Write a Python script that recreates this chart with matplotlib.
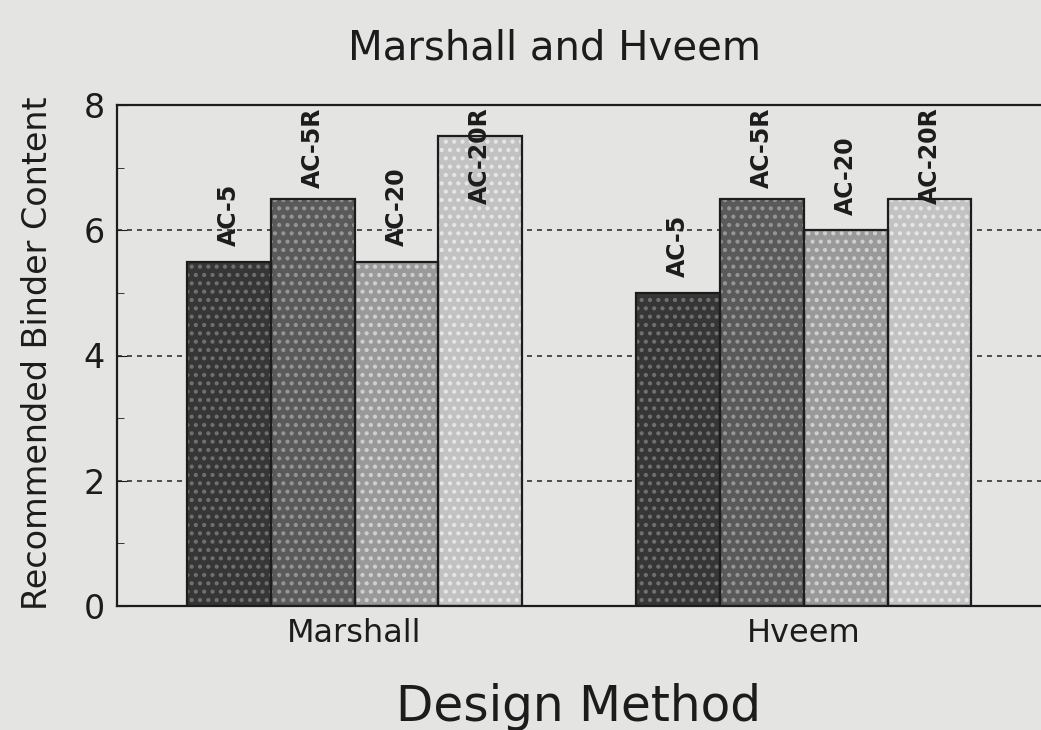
import matplotlib
matplotlib.use("Agg")
import matplotlib.pyplot as plt
import numpy as np

plt.rcParams['font.family'] = ['DejaVu Sans']
plt.rcParams['hatch.linewidth'] = 1.8

methods = ["Marshall", "Hveem"]
binders = ["AC-5", "AC-5R", "AC-20", "AC-20R"]
values = {
    "AC-5":   [5.5, 5.0],
    "AC-5R":  [6.5, 6.5],
    "AC-20":  [5.5, 6.0],
    "AC-20R": [7.5, 6.5],
}
y_ticks = [0, 2, 4, 6, 8]

face_colors = ["#363636", "#5a5a5a", "#999999", "#c2c2c2"]
dot_colors = ["#707070", "#959595", "#cfcfcf", "#e6e6e6"]
bg = "#e4e4e2"
ink = "#1c1c1c"

W, H = 1041, 730
fig = plt.figure(figsize=(W / 100, H / 100), dpi=100, facecolor=bg)
ax = fig.add_axes([117 / W, 1 - 606 / H, (1044 - 117) / W, (606 - 105) / H])
ax.set_facecolor(bg)

x = np.arange(len(methods))
bw = 0.1867
offsets = (np.arange(len(binders)) - 1.5) * bw

ax.set_ylim(0, 8)
ax.set_xlim(-0.529, 1.535)

labels = []
for i, b in enumerate(binders):
    xs = x + offsets[i]
    ax.bar(xs, values[b], width=bw, color=face_colors[i], edgecolor=dot_colors[i],
           hatch="..", linewidth=0, zorder=2)
    ax.bar(xs, values[b], width=bw, fill=False, edgecolor=ink, linewidth=1.6, zorder=3)
    for xi, v in zip(xs, values[b]):
        t = ax.text(xi, v + 0.25, b, rotation=90, ha="center", va="bottom",
                    fontsize=17, fontweight="bold", color=ink, zorder=4)
        labels.append(t)

ax.set_yticks(y_ticks)
ax.set_yticks([1, 3, 5, 7], minor=True)
ax.set_xticks(x)
ax.set_xticklabels(methods)
ax.tick_params(axis="x", length=0, labelsize=23, pad=9, colors=ink)
ax.tick_params(axis="y", which="major", direction="in", length=7, labelsize=24, pad=9,
               colors=ink)
ax.tick_params(axis="y", which="minor", direction="in", length=5, colors=ink)
ax.grid(axis="y", linestyle=(0, (3, 3)), color="#333333", linewidth=1.2, zorder=1)
ax.set_axisbelow(True)
for s in ax.spines.values():
    s.set_color(ink)
    s.set_linewidth(1.6)

fig.text(38 / W, 1 - 353 / H, "Recommended Binder Content", fontsize=24, rotation=90,
         ha="center", va="center", color=ink)
fig.text(578 / W, 1 - 721 / H, "Design Method", fontsize=35, ha="center", va="baseline",
         color=ink)
fig.text(555 / W, 1 - 60 / H, "Marshall and Hveem", fontsize=29, ha="center", va="baseline",
         color=ink)

# keep bar labels inside the plotting area (cap at the top frame)
fig.canvas.draw()
r = fig.canvas.get_renderer()
top_px = ax.transData.transform((0, 8))[1]
for t in labels:
    bb = t.get_window_extent(r)
    if bb.y1 > top_px - 2:
        t.set_va("top")
        t.set_y(7.96)

fig.savefig("out.png", dpi=100, facecolor=bg)
